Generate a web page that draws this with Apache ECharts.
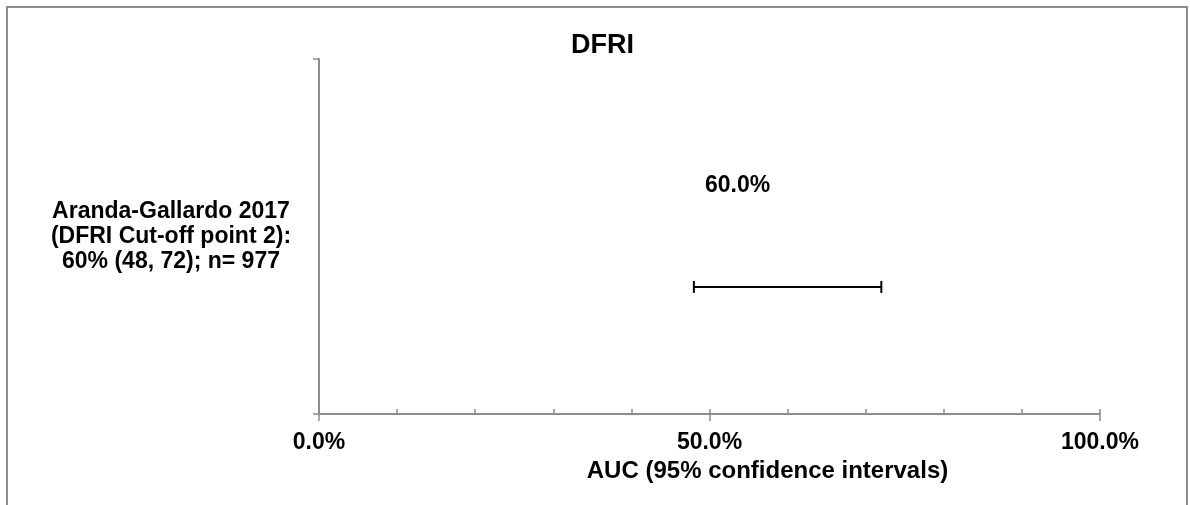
<!DOCTYPE html>
<html>
<head>
<meta charset="utf-8">
<script src="https://cdn.jsdelivr.net/npm/echarts@6/dist/echarts.min.js"></script>
<style>html,body{margin:0;padding:0;background:#fff}#c{width:1190px;height:505px}</style>
</head>
<body>
<div id="c"></div>
<script>
const studies = ['Aranda-Gallardo 2017\n(DFRI Cut-off point 2):\n60% (48, 72); n= 977'];
const auc = [60];
const lower = [48];
const upper = [72];
const xTicks = [0, 50, 100];

const ROW_Y = 0.358;
const FONT = '"Liberation Sans", Arial, sans-serif';
const AXIS = '#8c8c8c';

const chart = echarts.init(document.getElementById('c'), null, {renderer: 'canvas'});
const barData = studies.map((s, i) => [lower[i], upper[i], ROW_Y]);
const pointData = studies.map((s, i) => [auc[i], ROW_Y]);

chart.setOption({
  animation: false,
  backgroundColor: '#fff',
  textStyle: {fontFamily: FONT},
  title: {
    text: 'DFRI', left: 566, top: 27,
    textStyle: {fontFamily: FONT, fontSize: 27, fontWeight: 'bold', color: '#000'}
  },
  graphic: [{
    type: 'rect', shape: {x: 7, y: 7, width: 1180, height: 520},
    style: {fill: 'none', stroke: AXIS, lineWidth: 2}, silent: true, z: 100
  }],
  grid: {left: 319, right: 90, top: 59, bottom: 91, containLabel: false},
  xAxis: [{
    type: 'value', min: xTicks[0], max: xTicks[xTicks.length - 1], interval: 50,
    position: 'bottom',
    axisLine: {show: true, lineStyle: {color: AXIS, width: 2}},
    axisTick: {show: true, inside: true, length: 5, lineStyle: {color: AXIS, width: 1.5}},
    minorTick: {show: true, splitNumber: 5, length: 5, lineStyle: {color: AXIS, width: 1.5}},
    splitLine: {show: false},
    axisLabel: {
      margin: 17, fontFamily: FONT, fontSize: 23, fontWeight: 'bold', color: '#000',
      formatter: v => v.toFixed(1) + '%'
    },
    name: 'AUC (95% confidence intervals)', nameLocation: 'middle', nameGap: 36,
    nameTextStyle: {fontFamily: FONT, fontSize: 24, fontWeight: 'bold', color: '#000', padding: [0, 0, 0, 116]}
  }, {
    type: 'value', min: xTicks[0], max: xTicks[xTicks.length - 1], interval: 50,
    position: 'bottom', offset: 0,
    axisLine: {show: false},
    axisTick: {show: true, inside: false, length: 7, lineStyle: {color: AXIS, width: 1.5}},
    axisLabel: {show: false}, splitLine: {show: false}
  }],
  yAxis: [{
    type: 'value', min: 0, max: 1, interval: 1, position: 'left',
    axisLine: {show: true, lineStyle: {color: AXIS, width: 2}},
    axisTick: {show: true, inside: false, length: 6, lineStyle: {color: AXIS, width: 1.5}},
    axisLabel: {show: false}, splitLine: {show: false}
  }, {
    type: 'category', data: studies, position: 'left',
    axisLine: {show: false}, axisTick: {show: false}, splitLine: {show: false},
    axisLabel: {
      margin: 148, align: 'center', fontFamily: FONT, fontSize: 23, fontWeight: 'bold',
      color: '#000', lineHeight: 25, padding: [0, 0, 14, 0]
    }
  }],
  series: [{
    type: 'custom',
    xAxisIndex: 0, yAxisIndex: 0,
    data: barData,
    renderItem: function (params, api) {
      const a = api.coord([api.value(0), api.value(2)]);
      const b = api.coord([api.value(1), api.value(2)]);
      const h = 6;
      const st = {stroke: '#000', lineWidth: 2};
      return {
        type: 'group', children: [
          {type: 'line', shape: {x1: a[0], y1: a[1], x2: b[0], y2: b[1]}, style: st},
          {type: 'line', shape: {x1: a[0], y1: a[1] - h, x2: a[0], y2: a[1] + h}, style: st},
          {type: 'line', shape: {x1: b[0], y1: b[1] - h, x2: b[0], y2: b[1] + h}, style: st}
        ]
      };
    }
  }, {
    type: 'scatter', xAxisIndex: 0, yAxisIndex: 0,
    data: pointData, symbolSize: 0,
    itemStyle: {opacity: 1},
    label: {
      show: true, position: 'inside', offset: [-50, -101],
      fontFamily: FONT, fontSize: 23, fontWeight: 'bold', color: '#000',
      formatter: p => p.value[0].toFixed(1) + '%'
    }
  }]
});
</script>
</body>
</html>
